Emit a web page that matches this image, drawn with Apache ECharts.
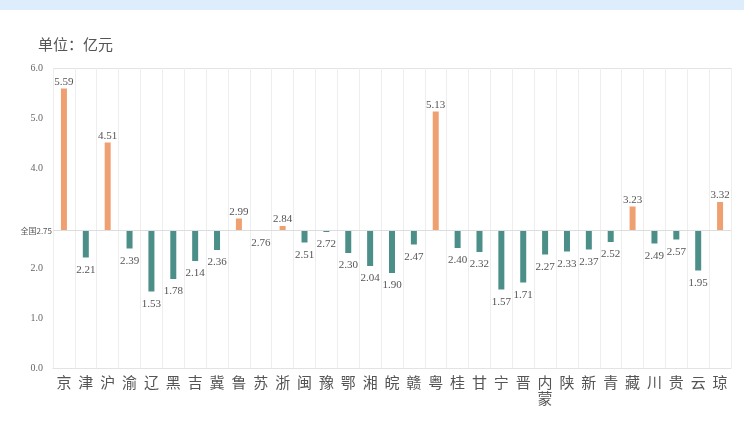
<!DOCTYPE html>
<html>
<head>
<meta charset="utf-8">
<script src="https://cdn.jsdelivr.net/npm/echarts@6/dist/echarts.min.js"></script>
<style>
html,body{margin:0;padding:0;background:#fff;}
#chart{width:744px;height:424px;}
</style>
</head>
<body>
<div id="chart"></div>
<script>
const categories = ['京','津','沪','渝','辽','黑','吉','冀','鲁','苏','浙','闽','豫','鄂','湘','皖','赣','粤','桂','甘','宁','晋','内\n蒙','陕','新','青','藏','川','贵','云','琼'];
const values = [5.59,2.21,4.51,2.39,1.53,1.78,2.14,2.36,2.99,2.76,2.84,2.51,2.72,2.30,2.04,1.90,2.47,5.13,2.40,2.32,1.57,1.71,2.27,2.33,2.37,2.52,3.23,2.49,2.57,1.95,3.32];
const national = 2.75;
const nationalLabel = '全国2.75';
const yTickLabels = ['0.0','1.0','2.0','','4.0','5.0','6.0'];
const unitTitle = '单位：亿元';

const ORANGE = '#EFA070';
const TEAL = '#4C8F89';
const serif = '"Liberation Serif","DejaVu Serif",serif';

const chart = echarts.init(document.getElementById('chart'));
chart.setOption({
  animation: false,
  backgroundColor: '#fff',
  graphic: [
    {type:'rect', left:0, top:0, shape:{width:744, height:10}, style:{fill:'#DDEDFB'}},
    {type:'text', left:38, top:37, style:{text:unitTitle, fill:'#555', font:'15px "Noto Sans CJK SC"'}}
  ],
  grid: {left:53, right:13, top:68, bottom:56},
  xAxis: {
    type:'category',
    data: categories,
    axisLine:{show:true, lineStyle:{color:'#e3e3e3'}},
    axisTick:{show:false},
    splitLine:{show:true, lineStyle:{color:'#eeeeee'}},
    axisLabel:{color:'#555', fontSize:15, fontFamily:'"Noto Sans CJK SC"', interval:0, margin:6, lineHeight:16}
  },
  yAxis: {
    type:'value', min:0, max:6, interval:1,
    axisLine:{show:false}, axisTick:{show:false},
    splitLine:{show:true, showMinLine:true, showMaxLine:true,
      lineStyle:{color:['#e3e3e3','rgba(0,0,0,0)','rgba(0,0,0,0)','rgba(0,0,0,0)','rgba(0,0,0,0)','rgba(0,0,0,0)','#e3e3e3']}},
    axisLabel:{color:'#666', fontSize:10, fontFamily:serif, margin:10,
      formatter:(v)=> yTickLabels[Math.round(v)]}
  },
  series: [
    {
      type:'bar', stack:'a', silent:true, barWidth:6,
      itemStyle:{color:'rgba(0,0,0,0)'},
      data: values.map(v=>Math.min(v, national))
    },
    {
      type:'bar', stack:'a', barWidth:6,
      data: values.map(v=>({
        value: Math.abs(v - national),
        itemStyle:{color: v > national ? ORANGE : TEAL},
        label:{position: v > 2.78 ? 'top' : 'bottom', distance: v > 2.78 ? 1 : 7}
      })),
      label:{show:true, color:'#555', fontSize:11, fontFamily:serif,
        formatter:(p)=> values[p.dataIndex].toFixed(2)},
      markLine:{
        silent:true, symbol:'none',
        lineStyle:{color:'#dddddd', type:'solid', width:1},
        label:{position:'start', formatter:nationalLabel, color:'#555', fontSize:8, fontFamily:'"Noto Sans CJK SC"', distance:1},
        data:[{yAxis:national}]
      }
    }
  ]
});
</script>
</body>
</html>
